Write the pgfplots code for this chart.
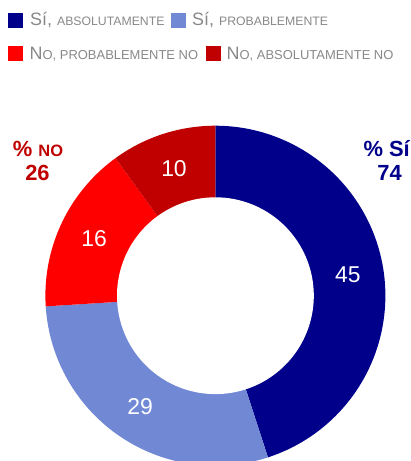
\documentclass[border=0pt]{standalone}
\usepackage{pgfplots}
\pgfplotsset{compat=1.18}
\usepackage{pgfplotstable}
\usepackage{fontspec}
\setmainfont{Liberation Sans}
\definecolor{cA}{HTML}{00008B}
\definecolor{cB}{HTML}{7189D5}
\definecolor{cC}{HTML}{FF0000}
\definecolor{cD}{HTML}{C00000}
\definecolor{leg}{HTML}{888888}

\pgfplotstableread{
cat value
SiAbs 45
SiProb 29
NoProb 16
NoAbs 10
}\datatable

\newcommand\legtext[3]{{\fontsize{18}{18}\selectfont #2}{\fontsize{#1}{#1}\selectfont #3}}
\def\cx{215.4}
\def\cy{295.7}
\def\Ro{170}
\def\Ri{98.4}
\def\Rl{134}
\newcommand\donutwedge[3]{%
  \addplot[draw=none, fill=#3, samples at={-1,0,1,...,90,91}, variable=\t]
   ({\cx+ifthenelse(or(\t<0,\t>90),0,\Ro)*sin(#1+(#2-#1)*\t/90)},
    {\cy-ifthenelse(or(\t<0,\t>90),0,\Ro)*cos(#1+(#2-#1)*\t/90)});}

\begin{document}
\begin{tikzpicture}
\pgfplotstablegetelem{0}{value}\of\datatable \edef\va{\pgfplotsretval}
\pgfplotstablegetelem{1}{value}\of\datatable \edef\vb{\pgfplotsretval}
\pgfplotstablegetelem{2}{value}\of\datatable \edef\vc{\pgfplotsretval}
\pgfplotstablegetelem{3}{value}\of\datatable \edef\vd{\pgfplotsretval}
\pgfmathsetmacro\eA{3.6*\va}
\pgfmathsetmacro\eB{\eA+3.6*\vb}
\pgfmathsetmacro\eC{\eB+3.6*\vc}
\pgfmathsetmacro\eD{\eC+3.6*\vd}
\pgfmathsetmacro\mA{\eA/2}
\pgfmathsetmacro\mB{(\eA+\eB)/2}
\pgfmathsetmacro\mC{(\eB+\eC)/2}
\pgfmathsetmacro\mD{(\eC+\eD)/2}
\pgfmathsetmacro\xA{\cx+\Rl*sin(\mA)}\pgfmathsetmacro\yA{\cy-\Rl*cos(\mA)}
\pgfmathsetmacro\xB{\cx+\Rl*sin(\mB)}\pgfmathsetmacro\yB{\cy-\Rl*cos(\mB)}
\pgfmathsetmacro\xC{\cx+\Rl*sin(\mC)}\pgfmathsetmacro\yC{\cy-\Rl*cos(\mC)}
\pgfmathsetmacro\xD{\cx+\Rl*sin(\mD)}\pgfmathsetmacro\yD{\cy-\Rl*cos(\mD)}
\pgfmathtruncatemacro\totSi{\va+\vb}
\pgfmathtruncatemacro\totNo{\vc+\vd}
\begin{axis}[width=411bp, height=461bp, scale only axis,
  xmin=0, xmax=411, ymin=0, ymax=461, y dir=reverse, hide axis, clip=true]
\donutwedge{0}{\eA}{cA}
\donutwedge{\eA}{\eB}{cB}
\donutwedge{\eB}{\eC}{cC}
\donutwedge{\eC}{\eD}{cD}
\addplot[draw=none, fill=white, domain=0:360, samples=181]
  ({\cx+\Ri*cos(x)}, {\cy+\Ri*sin(x)});
% slice labels
\node[text=white, inner sep=0, font=\fontsize{23}{23}\selectfont] at (axis cs:\xA,\yA) {\va};
\node[text=white, inner sep=0, font=\fontsize{23}{23}\selectfont] at (axis cs:\xB,\yB) {\vb};
\node[text=white, inner sep=0, font=\fontsize{23}{23}\selectfont] at (axis cs:\xC,\yC) {\vc};
\node[text=white, inner sep=0, font=\fontsize{23}{23}\selectfont] at (axis cs:\xD,\yD) {\vd};
% totals
\node[anchor=base east, inner sep=0, text=cA, font=\bfseries\fontsize{22}{22}\selectfont] at (axis cs:410,156) {\% Sí};
\node[anchor=base, inner sep=0, text=cA, font=\bfseries\fontsize{22}{22}\selectfont] at (axis cs:389.5,180) {\totSi};
\node[anchor=base, inner sep=0, text=cD, font=\bfseries\fontsize{22}{22}\selectfont] at (axis cs:38,156) {\% {\fontsize{16.5}{16.5}\selectfont NO}};
\node[anchor=base, inner sep=0, text=cD, font=\bfseries\fontsize{22}{22}\selectfont] at (axis cs:37.5,180) {\totNo};
% legend
\fill[cA] (axis cs:8.3,13.3) rectangle (axis cs:23.3,28.3);
\node[anchor=base west, inner sep=0, text=leg] at (axis cs:30,25.7) {\legtext{12.3}{Sí, }{ABSOLUTAMENTE}};
\fill[cB] (axis cs:170.7,13.3) rectangle (axis cs:185.7,28.3);
\node[anchor=base west, inner sep=0, text=leg] at (axis cs:192,25.7) {\legtext{12.3}{Sí, }{PROBABLEMENTE}};
\fill[cC] (axis cs:8.3,46.5) rectangle (axis cs:23.3,61.5);
\node[anchor=base west, inner sep=0, text=leg] at (axis cs:29.5,59.3) {\legtext{13}{N}{O, PROBABLEMENTE NO}};
\fill[cD] (axis cs:205.5,46.5) rectangle (axis cs:220.5,61.5);
\node[anchor=base west, inner sep=0, text=leg] at (axis cs:226.5,59.3) {\legtext{13}{N}{O, ABSOLUTAMENTE NO}};
\end{axis}
\pgfresetboundingbox
\path[use as bounding box] (current axis.south west) rectangle (current axis.north east);
\end{tikzpicture}
\end{document}
